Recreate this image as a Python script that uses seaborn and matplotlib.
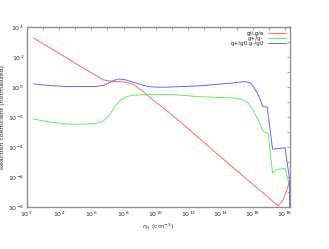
import numpy as np
import pandas as pd
import matplotlib
matplotlib.use("Agg")
import matplotlib.pyplot as plt
import matplotlib.ticker as mticker
import seaborn as sns

# values, as log10(n_H) and log10(coefficient)
red_lognh = [2.45, 4.68, 6.74, 7.1, 7.5, 7.78, 8.1, 8.4, 8.8, 9.22, 9.8, 10.87, 11.7, 14.59, 17.58,
             17.89, 18.14, 18.3]
red_logk = [3.25, 1.8, 0.47, 0.4, 0.36, 0.35, 0.32, 0.25, 0.02, -0.31, -0.85, -1.75, -2.5, -5.2, -7.93,
            -7.53, -6.75, -6.3]

green_lognh = [2.45, 3.5, 4.68, 5.6, 6.33, 6.7, 6.95, 7.2, 7.47, 7.75, 7.98, 8.3, 8.6, 9.2, 9.84, 10.87,
               12.63, 15.0, 15.4, 15.72, 16.0, 16.24, 16.45, 16.65, 16.96, 17.23, 17.48, 18.0, 18.26, 18.3]
green_logk = [-2.15, -2.35, -2.49, -2.48, -2.42, -2.3, -2.09, -1.75, -1.31, -0.95, -0.75, -0.62, -0.55, -0.53,
              -0.52, -0.49, -0.65, -0.75, -0.85, -1.09, -1.5, -1.98, -2.45, -2.98, -3.09, -5.75, -5.53, -5.42,
              -6.53, -8.2]

blue_lognh = [2.45, 3.3, 4.27, 5.3, 6.33, 6.8, 7.16, 7.45, 7.7, 7.95, 8.19, 8.6, 9.01, 9.4, 9.74, 10.3,
              10.87, 12.63, 14.69, 15.41, 15.7, 15.89, 16.14, 16.3, 16.45, 16.6, 16.65, 16.9, 17.23, 18.0,
              18.26, 18.3]
blue_logk = [0.2, 0.1, 0.04, 0.02, 0.03, 0.12, 0.3, 0.45, 0.52, 0.51, 0.45, 0.32, 0.18, 0.06, 0.0, -0.02,
             -0.01, 0.07, 0.25, 0.35, 0.32, 0.25, -0.15, -0.45, -0.8, -1.25, -1.31, -1.35, -4.15, -4.05,
             -5.98, -8.2]

labels = ["g/i,g/e", "g+/g-", "g+/g0,g-/g0"]
colors = ["#ff5050", "#50e850", "#5050ff"]

frames = []
for lab, lx, ly in zip(labels, [red_lognh, green_lognh, blue_lognh], [red_logk, green_logk, blue_logk]):
    frames.append(pd.DataFrame({"nH": 10.0 ** np.array(lx), "k": 10.0 ** np.array(ly), "series": lab}))
df = pd.concat(frames, ignore_index=True)

sns.set_style("white")
plt.rcParams["font.family"] = ["DejaVu Sans"]

fig = plt.figure(figsize=(3.29, 2.49), dpi=100)
ax = fig.add_axes([0.081, 0.169, 0.8, 0.723])

sns.lineplot(data=df, x="nH", y="k", hue="series", palette=dict(zip(labels, colors)),
             sort=False, estimator=None, linewidth=0.6, ax=ax)

ax.set_xscale("log")
ax.set_yscale("log")
ax.set_xlim(1e2, 2e18)
ax.set_ylim(1e-8, 1e4)

ax.xaxis.set_major_locator(mticker.FixedLocator([10.0 ** e for e in range(2, 19, 2)]))
ax.xaxis.set_minor_locator(mticker.FixedLocator([10.0 ** e for e in range(3, 19, 2)]))
ax.yaxis.set_major_locator(mticker.FixedLocator([10.0 ** e for e in range(-8, 5, 2)]))
ax.yaxis.set_minor_locator(mticker.FixedLocator([10.0 ** e for e in range(-7, 4, 2)]))
ax.xaxis.set_minor_formatter(mticker.NullFormatter())
ax.yaxis.set_minor_formatter(mticker.NullFormatter())

ax.tick_params(which="both", direction="in", top=True, right=True, labelsize=4.5,
               color="#808080", pad=2, length=2.5, width=0.5)
for s in ax.spines.values():
    s.set_color("#909090")
    s.set_linewidth(1.0)

ax.set_xlabel(r"$n_H$ (cm$^{-3}$)", fontsize=4.5, labelpad=2)
ax.set_ylabel("Reaction coefficient (normalized)", fontsize=4.5, labelpad=2)

leg = ax.legend(loc="upper right", frameon=False, fontsize=4, markerfirst=False,
                handlelength=3.2, handletextpad=0.8, labelspacing=0.05, borderaxespad=0.3)
# gnuplot style: labels right-aligned against the line samples
for col in leg._legend_handle_box.get_children():
    col.align = "right"

fig.savefig("out.png", dpi=100)
